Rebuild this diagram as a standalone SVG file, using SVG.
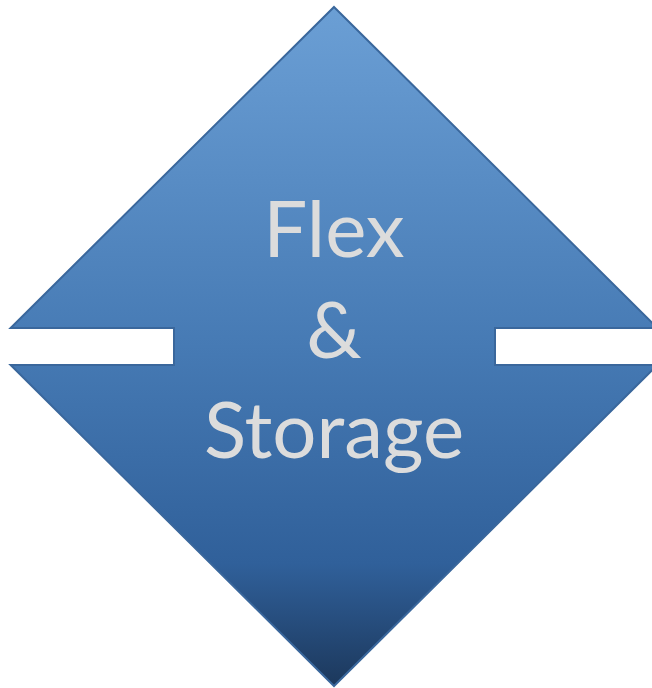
<svg xmlns="http://www.w3.org/2000/svg" width="652" height="688" viewBox="0 0 652 688">
<defs>
<linearGradient id="g" x1="0" y1="0" x2="0" y2="1">
<stop offset="0" stop-color="#6b9fd5"/>
<stop offset="0.5" stop-color="#467ab4"/>
<stop offset="0.82" stop-color="#30609a"/>
<stop offset="1" stop-color="#1c385c"/>
</linearGradient>
</defs>
<style>
.lbl{font-family:Lato,"Liberation Sans",sans-serif;font-size:78px;fill:#dcdcdc;text-anchor:middle}
</style>
<rect width="652" height="688" fill="#ffffff"/>
<g id="node-flex-storage">
<path d="M334,7 L657.4,328 L495,328 L495,365 L657.4,365 L334,686 L10.6,365 L174,365 L174,328 L10.6,328 Z" fill="url(#g)" stroke="#3a679c" stroke-width="2" stroke-linejoin="miter"/>
<text class="lbl" x="334" y="257">Flex</text>
<text class="lbl" x="334" y="358">&amp;</text>
<text class="lbl" x="334" y="458">Storage</text>
</g>
<g id="connectors"></g>
</svg>
